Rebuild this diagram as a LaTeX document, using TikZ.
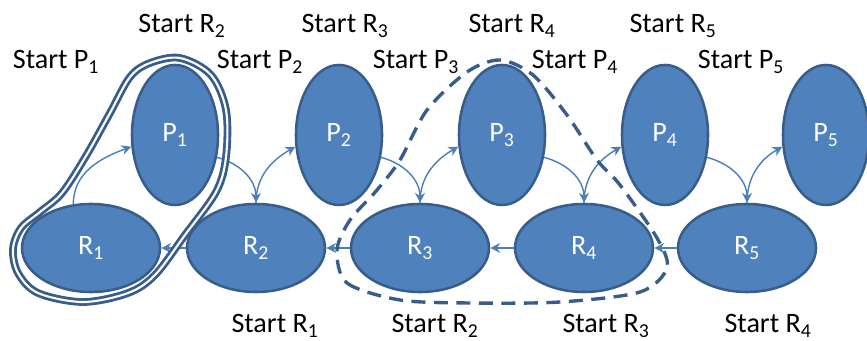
\documentclass[tikz,border=0pt]{standalone}
\usepackage{fontspec}
\setmainfont{Carlito}
\usepackage{tikz}
\usetikzlibrary{arrows.meta, shapes, calc}
\definecolor{nodeblue}{RGB}{79,129,189}
\definecolor{edgeblue}{RGB}{56,93,138}
\definecolor{arrowblue}{RGB}{74,126,187}

\begin{document}
\begin{tikzpicture}[x=0.025cm, y=0.025cm,
    proc/.style={ellipse, draw=edgeblue, line width=1.8pt, fill=nodeblue, text=white,
        minimum width=2.15cm, minimum height=3.5cm, inner sep=0pt, font=\fontsize{20}{24}\selectfont},
    res/.style={ellipse, draw=edgeblue, line width=1.8pt, fill=nodeblue, text=white,
        minimum width=3.45cm, minimum height=2.2cm, inner sep=0pt, font=\fontsize{20}{24}\selectfont},
    lbl/.style={anchor=base, inner sep=0pt, font=\fontsize{20}{24}\selectfont},
    link/.style={arrowblue, line width=1pt, -{Stealth[length=7pt, width=7pt]}}]
        \useasboundingbox (0,0) rectangle (867,341);

        % Processes (top row)
        \node[proc] (P1) at (175,206) {P\textsubscript{1}};
        \node[proc] (P2) at (339,206) {P\textsubscript{2}};
        \node[proc] (P3) at (502,206) {P\textsubscript{3}};
        \node[proc] (P4) at (665,206) {P\textsubscript{4}};
        \node[proc] (P5) at (826,206) {P\textsubscript{5}};

        % Resources (bottom row)
        \node[res] (R1) at (91,93) {R\textsubscript{1}};
        \node[res] (R2) at (256,93) {R\textsubscript{2}};
        \node[res] (R3) at (420,93) {R\textsubscript{3}};
        \node[res] (R4) at (584,93) {R\textsubscript{4}};
        \node[res] (R5) at (747,93) {R\textsubscript{5}};

        % Start labels
        \node[lbl] (sP1) at (56,272) {Start P\textsubscript{1}};
        \node[lbl] (sP2) at (260,272) {Start P\textsubscript{2}};
        \node[lbl] (sP3) at (416,272) {Start P\textsubscript{3}};
        \node[lbl] (sP4) at (575,272) {Start P\textsubscript{4}};
        \node[lbl] (sP5) at (741,272) {Start P\textsubscript{5}};
        \node[lbl] (sR2top) at (182,308) {Start R\textsubscript{2}};
        \node[lbl] (sR3top) at (345,308) {Start R\textsubscript{3}};
        \node[lbl] (sR4top) at (512,308) {Start R\textsubscript{4}};
        \node[lbl] (sR5top) at (673,308) {Start R\textsubscript{5}};
        \node[lbl] (sR1bot) at (275,8) {Start R\textsubscript{1}};
        \node[lbl] (sR2bot) at (435,8) {Start R\textsubscript{2}};
        \node[lbl] (sR3bot) at (606,8) {Start R\textsubscript{3}};
        \node[lbl] (sR4bot) at (768,8) {Start R\textsubscript{4}};

        % Request / release arrows
        \draw[link] (R1.112) to[out=90, in=200] (P1.195);
        \draw[link] (P1.-28) to[out=-15, in=90] (R2.north);
        \draw[link] (R2.north) to[out=90, in=210] (P2.195);
        \draw[link] (P2.-28) to[out=-15, in=90] (R3.north);
        \draw[link] (R3.north) to[out=90, in=210] (P3.195);
        \draw[link] (P3.-28) to[out=-15, in=90] (R4.north);
        \draw[link] (R4.north) to[out=90, in=210] (P4.195);
        \draw[link] (P4.-28) to[out=-15, in=90] (R5.north);
        \draw[link] (R5.north) to[out=90, in=210] (P5.195);

        % Chain of resources
        \draw[link] (R2.west) -- (R1.east);
        \draw[link] (R3.west) -- (R2.east);
        \draw[link] (R4.west) -- (R3.east);
        \draw[link] (R5.west) -- (R4.east);

        % Outlines
        \draw[edgeblue, line width=2pt, double=white, double distance=1.5pt]
            plot[smooth cycle, tension=0.55] coordinates {(13,92) (21,113) (40,129) (62,148) (86,185)
            (110,228) (130,264) (150,278) (180,283) (211,266) (226,231) (226,184) (216,149)
            (185,106) (155,66) (128,48) (83,39) (38,48) (18,68)};
        \draw[edgeblue, line width=2.4pt, dash pattern=on 10pt off 6pt]
            plot[smooth cycle] coordinates {(337,91) (347,58) (400,41) (470,38) (560,39) (640,49)
            (667,73) (657,103) (620,156) (597,181) (567,226) (533,266) (500,281) (467,269)
            (427,231) (400,181) (377,151) (350,121)};
\end{tikzpicture}
\end{document}
